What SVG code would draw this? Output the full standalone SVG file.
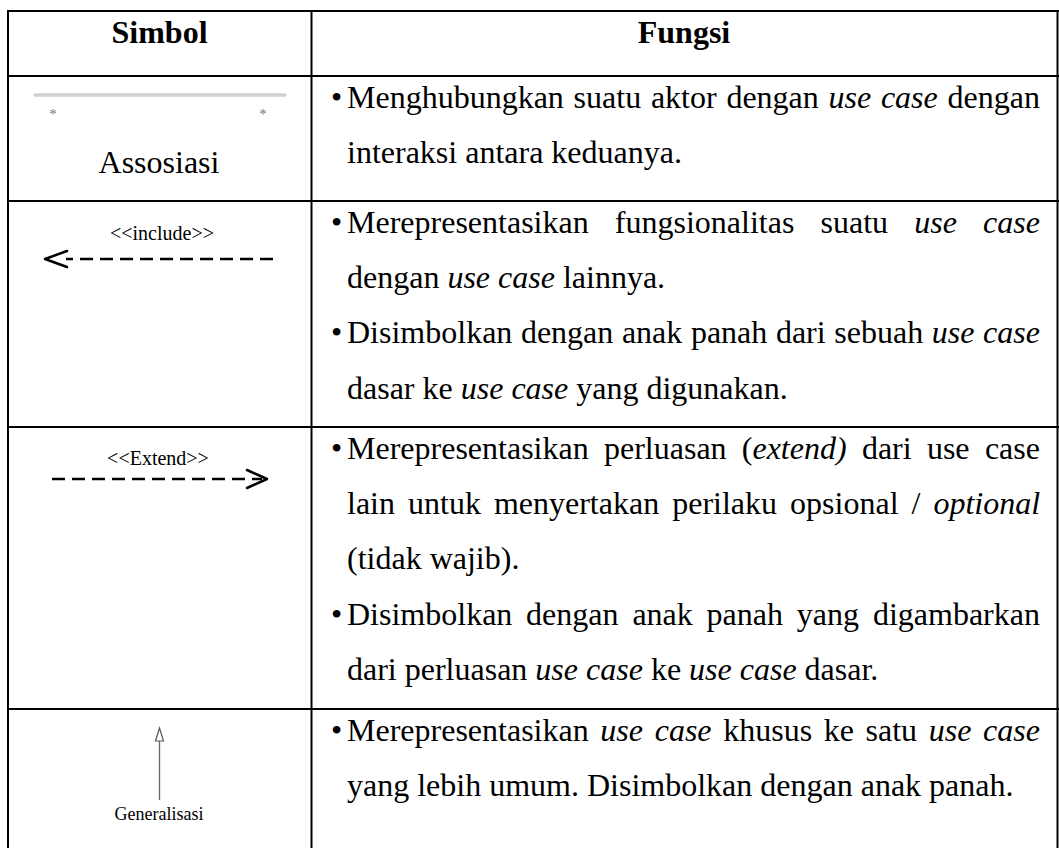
<svg xmlns="http://www.w3.org/2000/svg" width="1059" height="848" viewBox="0 0 1059 848">
<style>
text{font-family:"Liberation Serif","Times New Roman",serif;fill:#000}
.b{font-size:32px}
.h{font-size:32px;font-weight:bold}
.it{font-style:italic}
.grid{stroke:#000;stroke-width:2;fill:none}
.sm{font-size:20px}
.ast{font-size:15px;fill:#777}
.dash{stroke:#000;stroke-width:2.5;fill:none;stroke-dasharray:13 7}
.head{stroke:#000;stroke-width:2.5;fill:none;stroke-linecap:round;stroke-linejoin:round}
</style>
<rect width="1059" height="848" fill="#fff"/>
<g id="grid">
<line class="grid" x1="8" y1="11" x2="1059" y2="11"/>
<line class="grid" x1="8" y1="10" x2="8" y2="848"/>
<line class="grid" x1="311.5" y1="10" x2="311.5" y2="848"/>
<line class="grid" x1="1057.5" y1="10" x2="1057.5" y2="848"/>
<line class="grid" x1="8" y1="76" x2="1059" y2="76"/>
<line class="grid" x1="8" y1="201" x2="1059" y2="201"/>
<line class="grid" x1="8" y1="427" x2="1059" y2="427"/>
<line class="grid" x1="8" y1="709" x2="1059" y2="709"/>
</g>
<g id="header">
<text class="h" x="159.5" y="43" text-anchor="middle">Simbol</text>
<text class="h" x="684" y="43" text-anchor="middle">Fungsi</text>
</g>
<g id="row-assosiasi">
<line x1="35" y1="95" x2="285" y2="95" stroke="#d0d0d0" stroke-width="3.5" stroke-linecap="round"/>
<text class="ast" x="53" y="119" text-anchor="middle">*</text>
<text class="ast" x="263" y="119" text-anchor="middle">*</text>
<text class="b" x="159" y="173" text-anchor="middle">Assosiasi</text>
<text class="b" x="331" y="108">•</text>
<text class="b" y="108"><tspan x="347">Menghubungkan</tspan><tspan x="573.6">suatu</tspan><tspan x="650.9">aktor</tspan><tspan x="726.4">dengan</tspan><tspan x="828.5" class="it">use</tspan><tspan x="880.9" class="it">case</tspan><tspan x="947.5">dengan</tspan></text>
<text class="b" x="347" y="163">interaksi antara keduanya.</text>
</g>
<g id="row-include">
<text class="sm" x="162" y="240" text-anchor="middle">&lt;&lt;include&gt;&gt;</text>
<line class="dash" x1="273" y1="259" x2="66" y2="259"/>
<polyline class="head" points="67,251 45,259 67,267"/>
<text class="b" x="331" y="233">•</text>
<text class="b" y="233"><tspan x="347">Merepresentasikan</tspan><tspan x="614.8">fungsionalitas</tspan><tspan x="820.5">suatu</tspan><tspan x="914.2" class="it">use</tspan><tspan x="983" class="it">case</tspan></text>
<text class="b" x="347" y="288.2">dengan <tspan class="it">use case</tspan> lainnya.</text>
<text class="b" x="331" y="343.4">•</text>
<text class="b" y="343.4"><tspan x="347">Disimbolkan</tspan><tspan x="520.9">dengan</tspan><tspan x="621.9">anak</tspan><tspan x="690.9">panah</tspan><tspan x="775.9">dari</tspan><tspan x="834.3">sebuah</tspan><tspan x="931.8" class="it">use</tspan><tspan x="983.1" class="it">case</tspan></text>
<text class="b" x="347" y="398.6">dasar ke <tspan class="it">use case</tspan> yang digunakan.</text>
</g>
<g id="row-extend">
<text class="sm" x="158" y="465" text-anchor="middle">&lt;&lt;Extend&gt;&gt;</text>
<line class="dash" x1="52" y1="479" x2="262" y2="479"/>
<polyline class="head" points="247,470 267,479 247,488"/>
<text class="b" x="331" y="459">•</text>
<text class="b" y="459"><tspan x="347">Merepresentasikan</tspan><tspan x="604">perluasan</tspan><tspan x="741.8">(<tspan class="it">extend)</tspan></tspan><tspan x="861.9">dari</tspan><tspan x="926.9">use</tspan><tspan x="984.9">case</tspan></text>
<text class="b" y="514.2"><tspan x="347">lain</tspan><tspan x="408">untuk</tspan><tspan x="493.9">menyertakan</tspan><tspan x="672.2">perilaku</tspan><tspan x="790.1">opsional</tspan><tspan x="911.5">/</tspan><tspan x="933.4" class="it">optional</tspan></text>
<text class="b" x="347" y="569.4">(tidak wajib).</text>
<text class="b" x="331" y="624.6">•</text>
<text class="b" y="624.6"><tspan x="347">Disimbolkan</tspan><tspan x="526.1">dengan</tspan><tspan x="632.4">anak</tspan><tspan x="706.6">panah</tspan><tspan x="796.8">yang</tspan><tspan x="872.9">digambarkan</tspan></text>
<text class="b" x="347" y="679.8">dari perluasan <tspan class="it">use case</tspan> ke <tspan class="it">use case</tspan> dasar.</text>
</g>
<g id="row-generalisasi">
<line x1="159.5" y1="741" x2="159.5" y2="800" stroke="#666" stroke-width="1.3"/>
<polygon points="159.5,728 155.5,741 163.5,741" fill="#fff" stroke="#555" stroke-width="1.2"/>
<text x="159" y="820" font-size="18" text-anchor="middle">Generalisasi</text>
<text class="b" x="331" y="741">•</text>
<text class="b" y="741"><tspan x="347">Merepresentasikan</tspan><tspan x="600.3" class="it">use</tspan><tspan x="654.7" class="it">case</tspan><tspan x="723.2">khusus</tspan><tspan x="823.7">ke</tspan><tspan x="865.5">satu</tspan><tspan x="928.8" class="it">use</tspan><tspan x="983.1" class="it">case</tspan></text>
<text class="b" x="347" y="796.2">yang lebih umum. Disimbolkan dengan anak panah.</text>
</g>
</svg>
